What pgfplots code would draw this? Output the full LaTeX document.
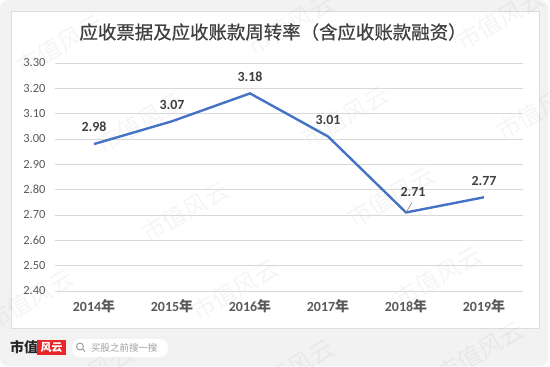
\documentclass[border=0pt]{standalone}
\usepackage{pgfplots}
\pgfplotsset{compat=1.18}
\usepackage{fontspec}
\setmainfont{Carlito}
\newfontfamily\cjk{Noto Sans CJK SC}
\newfontfamily\cjkt{Noto Sans CJK SC}[FakeBold=0.6]
\definecolor{bgc}{HTML}{F2F2F2}
\definecolor{panelc}{HTML}{DDDDDD}
\definecolor{gridc}{HTML}{D9D9D9}
\definecolor{titlec}{HTML}{404040}
\definecolor{tickc}{HTML}{595959}
\definecolor{labelc}{HTML}{404040}
\definecolor{linec}{HTML}{4472C4}
\definecolor{logored}{HTML}{E8262A}
\begin{document}
\begin{tikzpicture}[x=1bp,y=1bp]
\useasboundingbox (0,0) rectangle (550,366);
\fill[white] (0,0) rectangle (550,366);
\fill[bgc, rounded corners=8bp] (0,0) rectangle (548,366);
\filldraw[fill=white, draw=panelc, line width=0.8bp] (11,38) rectangle (539,355);
% faint watermarks
\begin{scope}
\clip (0,0) rectangle (550,366);
\foreach \wx/\wy in {60/45, 290/25, 500/20, 140/123, 345/117, 540/110, 185/212, 391/197, 30/300, 235/290, 438/277, 90/375, 290/370, 480/352}
  \node[font=\cjk\fontsize{24}{26}\selectfont, text=black, text opacity=0.04, rotate=30, inner sep=0pt] at (\wx,366-\wy) {市值风云};
\end{scope}
\node[font=\cjkt\fontsize{18.5}{21}\selectfont, text=titlec] at (273,334) {应收票据及应收账款周转率（含应收账款融资）};
\begin{axis}[
  at={(55bp,75bp)}, anchor=south west, scale only axis,
  width=468bp, height=228bp,
  xmin=-0.5, xmax=5.5, ymin=2.4, ymax=3.3,
  ytick={2.4,2.5,2.6,2.7,2.8,2.9,3.0,3.1,3.2,3.3},
  xtick={0,1,2,3,4,5},
  xticklabels={2014{\cjk 年},2015{\cjk 年},2016{\cjk 年},2017{\cjk 年},2018{\cjk 年},2019{\cjk 年}},
  axis line style={draw=none}, major tick style={draw=none},
  ymajorgrids, grid style={gridc, line width=0.8bp},
  /pgf/number format/assume math mode=true,
  yticklabel style={/pgf/number format/fixed, /pgf/number format/fixed zerofill, /pgf/number format/precision=2},
  y tick label style={font=\fontsize{12.5}{14}\selectfont, text=tickc, xshift=-6bp},
  x tick label style={font=\bfseries\fontsize{14}{16}\selectfont, text=tickc, yshift=-5bp},
  clip=false,
]
\addplot[linec, line width=2.4bp, no markers,
  visualization depends on={value \coordindex \as \idx},
  nodes near coords={\pgfmathprintnumber[fixed,fixed zerofill,precision=2,assume math mode=true]{\pgfplotspointmeta}},
  every node near coord/.append style={font=\bfseries\fontsize{14}{16}\selectfont, text=labelc, anchor=south, inner sep=0pt, yshift={11+4*(\idx==4)}, xshift={7*(\idx==4)}},
] coordinates {(0,2.98) (1,3.07) (2,3.18) (3,3.01) (4,2.71) (5,2.77)};
\draw[gray, line width=0.6bp] (axis cs:4,2.71) -- ++(6bp,10bp);
\end{axis}
% footer logo
\node[font=\cjk\bfseries\fontsize{14}{16}\selectfont, anchor=west, inner sep=0pt, text=black!85] at (10,19) {市值};
\fill[logored] (37,11) rectangle (66,26);
\node[font=\cjk\bfseries\fontsize{11}{12}\selectfont, text=white, inner sep=0pt] at (51.5,18.5) {风云};
\fill[white, rounded corners=8.5bp] (72,9) rectangle (168,27);
\draw[gray!80, line width=0.9bp] (80,19.5) circle (3.5);
\draw[gray!80, line width=1bp] (82.5,17) -- (85,14.5);
\node[font=\cjk\fontsize{9.5}{11}\selectfont, text=gray!75, anchor=west, inner sep=0pt] at (91,18) {买股之前搜一搜};
\end{tikzpicture}
\end{document}
